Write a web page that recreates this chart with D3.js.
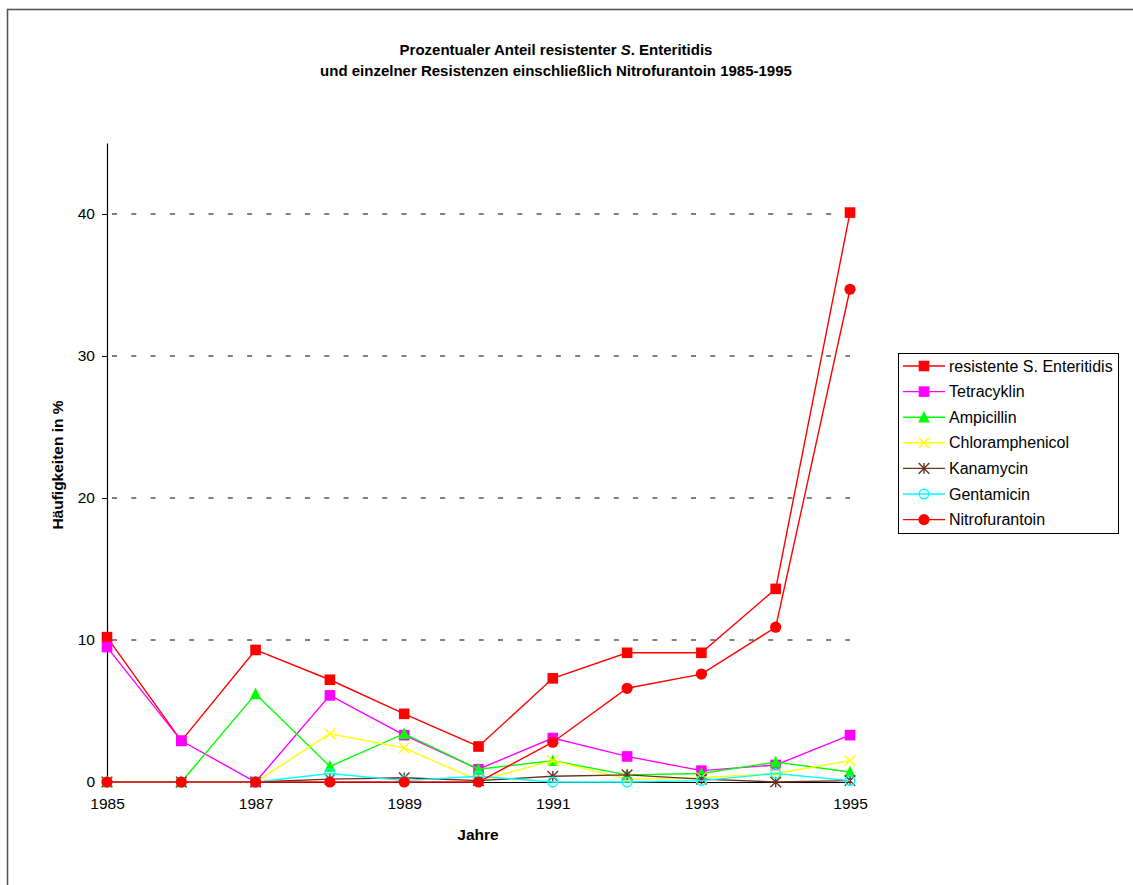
<!DOCTYPE html>
<html>
<head>
<meta charset="utf-8">
<script src="https://cdn.jsdelivr.net/npm/d3@7/dist/d3.min.js"></script>
<style>
  html, body { margin: 0; padding: 0; background: #fff; }
  svg { display: block; font-family: "Liberation Sans", Arial, sans-serif; }
</style>
</head>
<body>
<svg id="chart" width="1133" height="885"></svg>
<script>
// Jahre und Anteile (%) je Resistenz
const years = [1985, 1986, 1987, 1988, 1989, 1990, 1991, 1992, 1993, 1994, 1995];
const resistent = [10.2, 2.9, 9.3, 7.2, 4.8, 2.5, 7.3, 9.1, 9.1, 13.6, 40.1];
const tetracyklin = [9.5, 2.9, 0, 6.1, 3.3, 0.9, 3.1, 1.8, 0.8, 1.2, 3.3];
const ampicillin = [0, 0, 6.2, 1.1, 3.4, 0.9, 1.5, 0.5, 0.6, 1.4, 0.7];
const chloramphenicol = [0, 0, 0, 3.4, 2.4, 0.1, 1.5, 0.2, 0.3, 0.6, 1.5];
const kanamycin = [0, 0, 0, 0.2, 0.3, 0.1, 0.4, 0.5, 0.2, 0.0, 0.1];
const gentamicin = [0, 0, 0, 0.6, 0.1, 0.4, 0, 0, 0.1, 0.6, 0.1];
const nitrofurantoin = [0, 0, 0, 0, 0, 0, 2.8, 6.6, 7.6, 10.9, 34.7];

const yTicks = [0, 10, 20, 30, 40];
const xTicks = [1985, 1987, 1989, 1991, 1993, 1995];

const seriesNames = ["resistente S. Enteritidis", "Tetracyklin", "Ampicillin", "Chloramphenicol", "Kanamycin", "Gentamicin", "Nitrofurantoin"];
const seriesValues = [resistent, tetracyklin, ampicillin, chloramphenicol, kanamycin, gentamicin, nitrofurantoin];
const seriesColors = ["#ff0000", "#ff00ff", "#00ff00", "#ffff00", "#6b3322", "#00ffff", "#ff0000"];
const seriesMarkers = ["square", "square", "triangle", "cross", "star", "ring", "circle"];

const series = seriesNames.map((name, i) => ({
  name, color: seriesColors[i], marker: seriesMarkers[i],
  points: years.map((yr, j) => ({ year: yr, value: seriesValues[i][j] }))
}));

const svg = d3.select("#chart");

// outer frame
svg.append("rect")
  .attr("x", 7.5).attr("y", 9.5).attr("width", 1200).attr("height", 1000)
  .attr("fill", "none").attr("stroke", "#555").attr("stroke-width", 1.6);

const x = d3.scaleLinear().domain([1985, 1995]).range([107, 850]);
const y = d3.scaleLinear().domain([0, 45]).range([782, 143]);

// title
const title = svg.append("text")
  .attr("x", 556).attr("text-anchor", "middle")
  .attr("font-size", 15).attr("font-weight", "bold").attr("fill", "#000");
const l1 = title.append("tspan").attr("x", 556).attr("y", 55);
l1.append("tspan").text("Prozentualer Anteil resistenter ");
l1.append("tspan").attr("font-style", "italic").text("S");
l1.append("tspan").text(". Enteritidis");
title.append("tspan").attr("x", 556).attr("y", 76)
  .text("und einzelner Resistenzen einschließlich Nitrofurantoin 1985-1995");

// dashed gridlines
svg.append("g").selectAll("line")
  .data(yTicks.filter(d => d > 0))
  .join("line")
  .attr("x1", x(1985)).attr("x2", x(1995))
  .attr("y1", d => y(d)).attr("y2", d => y(d))
  .attr("stroke", "#808080").attr("stroke-width", 2)
  .attr("stroke-dasharray", "5,14.3").attr("stroke-dashoffset", -5);

// y axis
const yAxis = svg.append("g")
  .attr("transform", `translate(${x(1985)},0)`)
  .call(d3.axisLeft(y).tickValues(yTicks).tickSize(5).tickPadding(7).tickSizeOuter(0));
yAxis.select(".domain").attr("stroke", "#000").attr("stroke-width", 1.2);
yAxis.selectAll(".tick line").attr("stroke", "#000");
yAxis.selectAll(".tick text").attr("font-size", 15.5).attr("fill", "#000")
  .attr("font-family", "Liberation Sans, Arial, sans-serif");

// x axis
const xAxis = svg.append("g")
  .attr("transform", `translate(0,${y(0)})`)
  .call(d3.axisBottom(x).tickValues(xTicks).tickFormat(d3.format("d")).tickSize(0).tickPadding(16).tickSizeOuter(0));
xAxis.select(".domain").attr("stroke", "#000").attr("stroke-width", 1.2);
xAxis.selectAll(".tick text").attr("font-size", 15.5).attr("fill", "#000")
  .attr("font-family", "Liberation Sans, Arial, sans-serif");

// axis titles
svg.append("text").attr("x", 478).attr("y", 840).attr("text-anchor", "middle")
  .attr("font-size", 15.5).attr("font-weight", "bold").text("Jahre");
svg.append("text")
  .attr("transform", "translate(63,465) rotate(-90)")
  .attr("text-anchor", "middle")
  .attr("font-size", 15.5).attr("font-weight", "bold").text("Häufigkeiten in %");

// marker drawing
function drawMarker(g, type, color) {
  const s = 5.3;
  switch (type) {
    case "square":
      g.append("rect").attr("x", -s).attr("y", -s).attr("width", 2 * s).attr("height", 2 * s)
        .attr("fill", color);
      break;
    case "triangle":
      g.append("path").attr("d", `M0,${-s - 1}L${s + 0.5},${s}L${-s - 0.5},${s}Z`).attr("fill", color);
      break;
    case "cross":
      g.append("path").attr("d", `M${-s},${-s}L${s},${s}M${-s},${s}L${s},${-s}`)
        .attr("stroke", color).attr("stroke-width", 1.4).attr("fill", "none");
      break;
    case "star":
      g.append("path").attr("d", `M${-s},${-s}L${s},${s}M${-s},${s}L${s},${-s}M0,${-s}L0,${s}`)
        .attr("stroke", color).attr("stroke-width", 1.4).attr("fill", "none");
      break;
    case "ring":
      g.append("circle").attr("r", s - 0.5).attr("fill", "none")
        .attr("stroke", color).attr("stroke-width", 1.4);
      break;
    case "circle":
      g.append("circle").attr("r", s + 0.3).attr("fill", color);
      break;
  }
}

const line = d3.line().x(d => x(d.year)).y(d => y(d.value));
const plot = svg.append("g");
series.forEach(s => {
  const g = plot.append("g");
  g.append("path").datum(s.points).attr("d", line)
    .attr("fill", "none").attr("stroke", s.color).attr("stroke-width", 1.4);
  s.points.forEach(p => {
    const m = g.append("g").attr("transform", `translate(${x(p.year)},${y(p.value)})`);
    drawMarker(m, s.marker, s.color);
  });
});

// legend
const legend = svg.append("g").attr("transform", "translate(898,353)");
legend.append("rect").attr("x", 0.5).attr("y", 0.5).attr("width", 220).attr("height", 180)
  .attr("fill", "#fff").attr("stroke", "#000").attr("stroke-width", 1);
series.forEach((s, i) => {
  const row = legend.append("g").attr("transform", `translate(0,${13 + i * 25.6})`);
  row.append("line").attr("x1", 5).attr("x2", 47).attr("y1", 0).attr("y2", 0)
    .attr("stroke", s.color).attr("stroke-width", 1.4);
  drawMarker(row.append("g").attr("transform", "translate(26,0)"), s.marker, s.color);
  row.append("text").attr("x", 51).attr("y", 0).attr("dy", "0.35em")
    .attr("font-size", 16).attr("fill", "#000").text(s.name);
});
</script>
</body>
</html>
